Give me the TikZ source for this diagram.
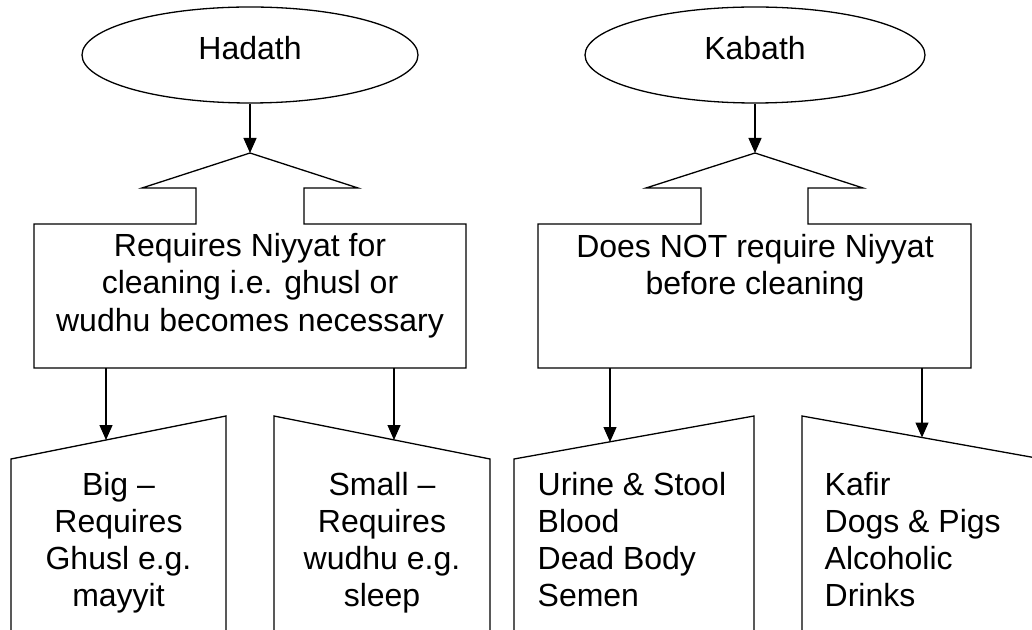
\documentclass[tikz,border=0pt]{standalone}
\usepackage{fontspec}
\setmainfont{Liberation Sans}
\usetikzlibrary{shapes.geometric}
\usetikzlibrary{arrows.meta}

\tikzset{
	txt/.style={font=\fontsize{16}{18.5}\selectfont, inner sep=0pt},
	arr/.style={-{Triangle[length=7.5pt,width=6.5pt]}},
	oval/.style={draw, ellipse, inner sep=0pt, minimum height=48pt}
}

\begin{document}
\begin{tikzpicture}[x=0.5pt,y=-0.5pt,line width=0.65pt]
		\useasboundingbox (0,0) rectangle (1032,630);
		\clip (0,0) rectangle (1032,630);
		
		% Hadath
		\node[oval, minimum width=168pt] (hadath) at (250,55) {};
		\node[txt, anchor=base] (hadathtxt) at (250,60) {Hadath};
		\coordinate (hroof) at (250,153);
		\draw (34,224)--(196,224)--(196,188)--(142,188)--(hroof)--(358,188)--(304,188)--(304,224)--(466,224)--(466,368)--(34,368)--cycle;
		\node[txt, anchor=base, align=center] (hbox) at (250,331) {Requires Niyyat for\\cleaning i.e. ghusl or\\wudhu becomes necessary};
		\draw[arr] (hadath.south)--(hroof);
		\coordinate (hb1) at (106,368);
		\coordinate (hb2) at (394,368);
		\coordinate (big) at (106,440);
		\coordinate (small) at (394,440);
		\draw (11,640)--(11,459)--(226,416)--(226,640);
		\draw (274,640)--(274,416)--(490,459)--(490,640);
		\node[txt, anchor=base, align=center] (bigtxt) at (118.5,606) {Big –\\Requires\\Ghusl e.g.\\mayyit};
		\node[txt, anchor=base, align=center] (smalltxt) at (382,606) {Small –\\Requires\\wudhu e.g.\\sleep};
		\draw[arr] (hb1)--(big);
		\draw[arr] (hb2)--(small);
		
		% Kabath
		\node[oval, minimum width=170pt] (kabath) at (755,55) {};
		\node[txt, anchor=base] (kabathtxt) at (755,60) {Kabath};
		\coordinate (kroof) at (755,153);
		\draw (538,224)--(701,224)--(701,188)--(646,188)--(kroof)--(863,188)--(808,188)--(808,224)--(971,224)--(971,368)--(538,368)--cycle;
		\node[txt, anchor=base, align=center] (kbox) at (755,295) {Does NOT require Niyyat\\before cleaning};
		\draw[arr] (kabath.south)--(kroof);
		\coordinate (kb1) at (610,368);
		\coordinate (kb2) at (922,368);
		\coordinate (najas) at (610,442);
		\coordinate (najis) at (922,437.5);
		\draw (514,640)--(514,459)--(754,416)--(754,640);
		\draw (802,640)--(802,416)--(1042,459)--(1042,640);
		\node[txt, anchor=base west, align=left] (najastxt) at (537,606) {Urine \& Stool\\Blood\\Dead Body\\Semen};
		\node[txt, anchor=base west, align=left] (najistxt) at (824,606) {Kafir\\Dogs \& Pigs\\Alcoholic\\Drinks};
		\draw[arr] (kb1)--(najas);
		\draw[arr] (kb2)--(najis);
\end{tikzpicture}
\end{document}
